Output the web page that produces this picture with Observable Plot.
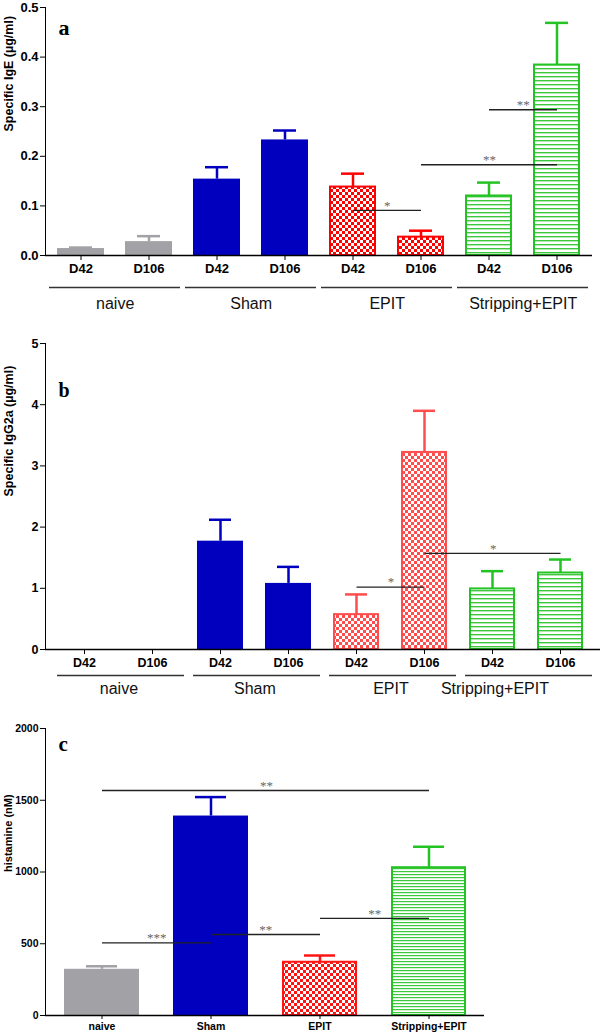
<!DOCTYPE html>
<html><head><meta charset="utf-8">
<script src="https://cdn.jsdelivr.net/npm/d3@7"></script>
<script src="https://cdn.jsdelivr.net/npm/@observablehq/plot@0.6"></script>
<style>
body{margin:0;background:#fff;}
#wrap{position:relative;width:600px;height:1032px;overflow:hidden;}
.panel{position:absolute;left:0;}
</style></head><body>
<svg width="0" height="0" style="position:absolute"><defs>
<pattern id="chkA" width="6" height="6" patternUnits="userSpaceOnUse"><rect width="6" height="6" fill="#ff0000"/><rect width="3" height="3" fill="#fff"/><rect x="3" y="3" width="3" height="3" fill="#fff"/></pattern>
<pattern id="chkB" width="6" height="6" patternUnits="userSpaceOnUse"><rect width="6" height="6" fill="#ff4d4d"/><rect width="3" height="3" fill="#fff"/><rect x="3" y="3" width="3" height="3" fill="#fff"/></pattern>
<pattern id="chkC" width="6" height="6" patternUnits="userSpaceOnUse"><rect width="6" height="6" fill="#ff1414"/><rect width="3" height="3" fill="#fff"/><rect x="3" y="3" width="3" height="3" fill="#fff"/></pattern>
<pattern id="strA" width="8" height="4" patternUnits="userSpaceOnUse"><rect width="8" height="4" fill="#fff"/><rect width="8" height="1.4" fill="#3cc83c"/></pattern>
<pattern id="strC" width="8" height="3" patternUnits="userSpaceOnUse"><rect width="8" height="3" fill="#fff"/><rect width="8" height="1.2" fill="#3cc83c"/></pattern>
</defs></svg>
<div id="wrap">
  <div class="panel" id="pa" style="top:0px"></div>
  <div class="panel" id="pb" style="top:330px"></div>
  <div class="panel" id="pc" style="top:700px"></div>
</div>
<script>
// ---------- data ----------
const groups = ["naive", "Sham", "EPIT", "Stripping+EPIT"];
const days = ["D42", "D106"];

// panel a : specific IgE (µg/ml), order naive D42, naive D106, Sham D42, ...
const igeMean = [0.014, 0.028, 0.154, 0.233, 0.138, 0.037, 0.120, 0.384];
const igeErr  = [0.002, 0.011, 0.024, 0.019, 0.027, 0.013, 0.027, 0.085];
const igeTicks = [0, 0.1, 0.2, 0.3, 0.4, 0.5];
const igeSig = [
  {from: "EPIT|D42", to: "EPIT|D106", y: 0.091, label: "*"},
  {from: "EPIT|D106", to: "Stripping+EPIT|D106", y: 0.183, label: "**"},
  {from: "Stripping+EPIT|D42", to: "Stripping+EPIT|D106", y: 0.294, label: "**"}
];

// panel b : specific IgG2a (µg/ml)
const iggMean = [0, 0, 1.77, 1.08, 0.57, 3.22, 0.99, 1.25];
const iggErr  = [0, 0, 0.35, 0.27, 0.33, 0.68, 0.29, 0.22];
const iggTicks = [0, 1, 2, 3, 4, 5];
const iggSig = [
  {from: "EPIT|D42", to: "EPIT|D106", y: 1.02, label: "*"},
  {from: "EPIT|D106", to: "Stripping+EPIT|D106", y: 1.57, label: "*"}
];

// panel c : histamine (nM)
const histMean = [322, 1390, 371, 1030];
const histErr  = [21, 132, 47, 146];
const histTicks = [0, 500, 1000, 1500, 2000];
const histSig = [
  {from: "naive", to: "Stripping+EPIT", y: 1568, label: "**"},
  {from: "naive", to: "Sham", y: 506, label: "***"},
  {from: "Sham", to: "EPIT", y: 564, label: "**"},
  {from: "EPIT", to: "Stripping+EPIT", y: 677, label: "**"}
];

// ---------- styles ----------
const GREY = "#a2a2a6", BLUE = "#0000be", GREEN = "#22c322";
const stylesA = {
  "naive": {fill: GREY, line: GREY},
  "Sham": {fill: BLUE, line: BLUE},
  "EPIT": {fill: "url(#chkA)", stroke: "#ff0000", line: "#ff0000"},
  "Stripping+EPIT": {fill: "url(#strA)", stroke: GREEN, line: GREEN}
};
const stylesB = {
  "naive": {fill: GREY, line: GREY},
  "Sham": {fill: BLUE, line: BLUE},
  "EPIT": {fill: "url(#chkB)", stroke: "#ff4d4d", line: "#ff4d4d"},
  "Stripping+EPIT": {fill: "url(#strA)", stroke: GREEN, line: GREEN}
};
const stylesC = {
  "naive": {fill: GREY, line: GREY},
  "Sham": {fill: BLUE, line: BLUE},
  "EPIT": {fill: "url(#chkC)", stroke: "#ff1414", line: "#ff1414"},
  "Stripping+EPIT": {fill: "url(#strC)", stroke: GREEN, line: GREEN}
};
const FONT = "'Liberation Sans', Arial, sans-serif";

function barMarks(rows, styles, capInset) {
  const out = [];
  for (const g of groups) {
    const s = styles[g];
    const r = rows.filter(d => d.group === g && d.mean > 0);
    out.push(Plot.barY(r, {x: "key", y: "mean", fill: s.fill, stroke: s.stroke || "none", strokeWidth: 2,
      insetLeft: s.stroke ? 1 : 0, insetRight: s.stroke ? 1 : 0}));
    out.push(Plot.ruleX(r, {x: "key", y1: "mean", y2: d => d.mean + d.err, stroke: s.line, strokeWidth: 2.5}));
    out.push(Plot.tickY(r, {x: "key", y: d => d.mean + d.err, stroke: s.line, strokeWidth: 2.5, insetLeft: capInset, insetRight: capInset}));
  }
  return out;
}

function sigMarks(sig, domain, step) {
  return sig.flatMap(s => [
    Plot.link([s], {x1: "from", x2: "to", y1: "y", y2: "y", stroke: "#222", strokeWidth: 1.4}),
    Plot.text([s], {x: "from", y: "y", text: "label", dx: (domain.indexOf(s.to) - domain.indexOf(s.from)) * step / 2,
      dy: -5, fill: "#666", fontSize: 13, fontWeight: "normal", fontFamily: "'Liberation Serif', serif"})
  ]);
}

const keys = groups.flatMap(g => days.map(d => g + "|" + d));

function dayPanel(o) {
  const rows = keys.map((k, i) => ({key: k, group: k.split("|")[0], day: k.split("|")[1], mean: o.mean[i], err: o.err[i]}));
  const step = (600 - o.ml - o.mr) / (keys.length - o.pi + 2 * o.po);
  const marks = [
    ...barMarks(rows, o.styles, 12),
    Plot.ruleY([0], {stroke: "#000", strokeWidth: 1.5}),
    ...sigMarks(o.sig, keys, step),
    Plot.ruleY(groups, {x1: g => g + "|D42", x2: g => g + "|D106", y: () => 0, dy: o.lineDy,
      insetLeft: o.lineInL, insetRight: o.lineInR, stroke: "#333", strokeWidth: 1.5}),
    ...groups.map(g => Plot.text([g], {x: d => d + "|D42", y: () => 0, text: d => d, dx: step / 2 + (o.labelShift[g] || 0),
      dy: o.labelDy, fontSize: 16, fontWeight: "normal", fill: "#111", lineAnchor: "middle"})),
    Plot.text([o.yLabel], {frameAnchor: "left", text: d => d, dx: -37, rotate: -90, fontSize: 12.5, fontWeight: "bold"}),
    Plot.text([o.letter], {frameAnchor: "top-left", text: d => d, textAnchor: "start", lineAnchor: "top", dx: 13, dy: o.letterDy,
      fontFamily: "'Liberation Serif', serif", fontSize: o.letterSize, fontWeight: "bold"})
  ];
  return Plot.plot({
    width: 600, height: o.height, marginTop: o.mt, marginBottom: o.mb, marginLeft: o.ml, marginRight: o.mr,
    x: {domain: keys, paddingInner: o.pi, paddingOuter: o.po, tickSize: 5, tickPadding: o.xPad,
      tickFormat: k => k.split("|")[1], label: null},
    y: {domain: [0, o.yMax], ticks: o.yTicks, tickFormat: o.yFmt, tickSize: 5, tickPadding: 2, label: null, line: true},
    style: {fontFamily: FONT, fontSize: o.tickFont + "px", fontWeight: "bold", color: "#000", background: "transparent", overflow: "visible"},
    marks
  });
}

document.getElementById("pa").append(dayPanel({
  mean: igeMean, err: igeErr, sig: igeSig, yMax: 0.5, yTicks: igeTicks, yFmt: d3.format(".1f"),
  yLabel: "Specific IgE (µg/ml)", letter: "a", styles: stylesA,
  height: 320, mt: 7, mb: 65, ml: 45, mr: 8, pi: 0.31, po: 0.155, xPad: 3, tickFont: 13,
  lineDy: 32, labelDy: 48, lineInL: -8, lineInR: -8, labelShift: {}, letterDy: 12, letterSize: 22
}));

document.getElementById("pb").append(dayPanel({
  mean: iggMean, err: iggErr, sig: iggSig, yMax: 5, yTicks: iggTicks, yFmt: d3.format("d"),
  yLabel: "Specific IgG2a (µg/ml)", letter: "b", styles: stylesB,
  height: 370, mt: 13, mb: 51, ml: 45, mr: 0, pi: 0.32, po: 0.19, xPad: 4, tickFont: 12.5,
  lineDy: 26, labelDy: 39, lineInL: -4, lineInR: -9, labelShift: {"Stripping+EPIT": -32}, letterDy: 39, letterSize: 20
}));

// panel c
(function () {
  const rows = groups.map((g, i) => ({key: g, group: g, mean: histMean[i], err: histErr[i]}));
  const ml = 45, mr = 116, pi = 0.316, po = 0.159;
  const step = (600 - ml - mr) / (groups.length - pi + 2 * po);
  const chart = Plot.plot({
    width: 600, height: 332, marginTop: 28, marginBottom: 17, marginLeft: ml, marginRight: mr,
    x: {domain: groups, paddingInner: pi, paddingOuter: po, tickSize: 4, tickPadding: 3, label: null},
    y: {domain: [0, 2000], ticks: histTicks, tickFormat: d3.format("d"), tickSize: 5, tickPadding: 2, label: null, line: true},
    style: {fontFamily: FONT, fontSize: "10.5px", fontWeight: "bold", color: "#000", background: "transparent", overflow: "visible"},
    marks: [
      ...barMarks(rows, stylesC, 22),
      Plot.ruleY([0], {stroke: "#000", strokeWidth: 1.5}),
      ...sigMarks(histSig, groups, step),
      Plot.text(["histamine (nM)"], {frameAnchor: "left", text: d => d, dx: -37, rotate: -90, fontSize: 11, fontWeight: "bold"}),
      Plot.text(["c"], {frameAnchor: "top-left", text: d => d, textAnchor: "start", lineAnchor: "top", dx: 13, dy: 8,
        fontFamily: "'Liberation Serif', serif", fontSize: 21, fontWeight: "bold"})
    ]
  });
  document.getElementById("pc").append(chart);
})();
</script>
</body></html>
